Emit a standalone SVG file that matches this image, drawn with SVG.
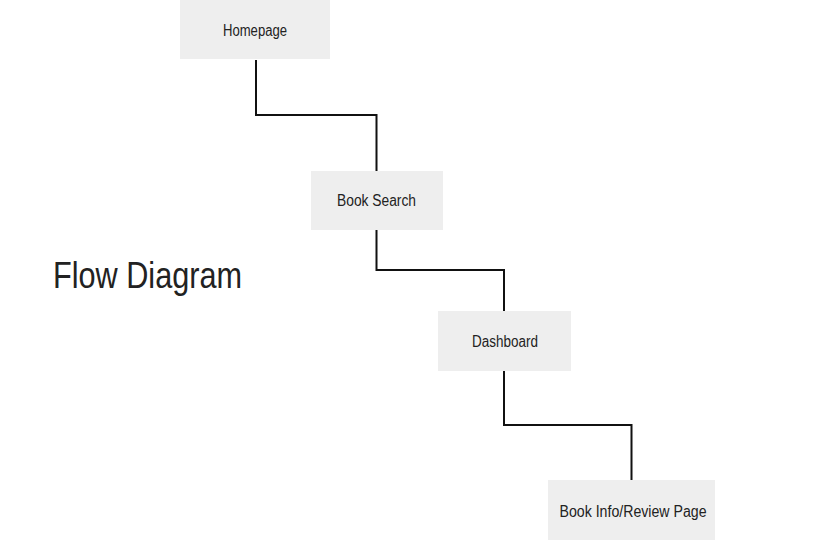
<svg xmlns="http://www.w3.org/2000/svg" width="831" height="540" viewBox="0 0 831 540">
<style>
.box{fill:#eeeeee;}
.lbl{font-family:"Liberation Sans","DejaVu Sans",sans-serif;font-size:16px;fill:#222;text-anchor:middle;}
.title{font-family:"Liberation Sans","DejaVu Sans",sans-serif;font-size:36px;fill:#222;}
.conn{fill:none;stroke:#111;stroke-width:2;}
</style>
<rect width="831" height="540" fill="#ffffff"/>
<text class="title" x="53" y="288" textLength="189" lengthAdjust="spacingAndGlyphs">Flow Diagram</text>
<g id="connectors">
<polyline class="conn" points="256,60 256,115 376.5,115 376.5,171"/>
<polyline class="conn" points="376.5,230 376.5,270 504,270 504,311"/>
<polyline class="conn" points="504,371 504,425 631.5,425 631.5,480"/>
</g>
<g id="homepage">
<rect class="box" x="180" y="0" width="150" height="59"/>
<text class="lbl" x="255" y="36" textLength="64" lengthAdjust="spacingAndGlyphs">Homepage</text>
</g>
<g id="book-search">
<rect class="box" x="311" y="171" width="132" height="59"/>
<text class="lbl" x="376.5" y="206" textLength="79" lengthAdjust="spacingAndGlyphs">Book Search</text>
</g>
<g id="dashboard">
<rect class="box" x="438" y="311" width="133" height="60"/>
<text class="lbl" x="505" y="347" textLength="66" lengthAdjust="spacingAndGlyphs">Dashboard</text>
</g>
<g id="book-info">
<rect class="box" x="548" y="480" width="167" height="60"/>
<text class="lbl" x="633" y="517" textLength="147" lengthAdjust="spacingAndGlyphs">Book Info/Review Page</text>
</g>
</svg>
